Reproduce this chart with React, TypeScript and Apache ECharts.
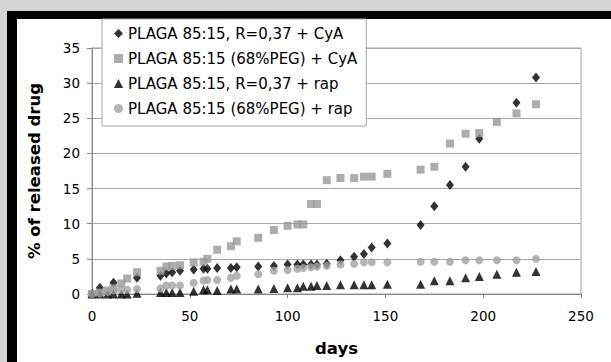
import React, { useEffect, useRef } from "react";
import * as echarts from "echarts";

const seriesNames = [
  "PLAGA 85:15, R=0,37 + CyA",
  "PLAGA 85:15 (68%PEG) + CyA",
  "PLAGA 85:15, R=0,37 + rap",
  "PLAGA 85:15 (68%PEG) + rap",
];

const daysCyA = [0, 4, 11, 23, 35, 38, 41, 45, 52, 57, 59, 64, 71, 74, 85, 93, 100, 105, 108, 112, 115, 120, 127, 134, 139, 143, 151, 168, 175, 183, 191, 198, 217, 227];
const cyaR037 = [0, 0.9, 1.6, 2.3, 2.6, 2.9, 3.1, 3.3, 3.5, 3.6, 3.6, 3.7, 3.7, 3.8, 3.9, 4.0, 4.2, 4.2, 4.2, 4.2, 4.2, 4.3, 4.8, 5.3, 5.7, 6.6, 7.2, 9.8, 12.5, 15.5, 18.1, 22.1, 27.2, 30.8];

const daysAll = [0, 4, 8, 11, 15, 18, 23, 35, 38, 41, 45, 52, 57, 59, 64, 71, 74, 85, 93, 100, 105, 108, 112, 115, 120, 127, 134, 139, 143, 151, 168, 175, 183, 191, 198, 207, 217, 227];
const cyaPEG = [0, 0.2, 0.5, 0.8, 1.5, 2.2, 3.1, 3.3, 3.9, 4.0, 4.1, 4.5, 4.6, 5.0, 6.3, 6.8, 7.5, 8.0, 9.1, 9.7, 9.9, 9.9, 12.8, 12.8, 16.2, 16.5, 16.5, 16.7, 16.7, 17.1, 17.7, 18.1, 21.4, 22.8, 22.9, 24.5, 25.7, 27.0];
const rapR037 = [0, 0, 0, 0, 0, 0, 0.1, 0.2, 0.2, 0.2, 0.2, 0.4, 0.6, 0.6, 0.5, 0.7, 0.7, 0.7, 0.8, 0.9, 0.9, 1.1, 1.1, 1.2, 1.2, 1.3, 1.3, 1.3, 1.3, 1.4, 1.4, 1.9, 1.9, 2.3, 2.5, 2.8, 3.1, 3.2];
const rapPEG = [0, 0.1, 0.3, 0.5, 0.6, 0.6, 0.7, 0.8, 1.2, 1.2, 1.2, 1.6, 1.9, 2.0, 2.0, 2.3, 2.6, 2.8, 3.3, 3.4, 3.6, 3.7, 3.8, 3.9, 4.0, 4.2, 4.3, 4.5, 4.5, 4.5, 4.6, 4.6, 4.6, 4.8, 4.8, 4.8, 4.8, 5.0];

const xTitle = "days";
const yTitle = "% of released drug";

const pairs = (xs: number[], ys: number[]) => xs.map((x, i) => [x, ys[i]]);

const FONT = "DejaVu Sans";

export default function App() {
  const ref = useRef<HTMLDivElement>(null);

  useEffect(() => {
    if (!ref.current) return;
    const chart = echarts.init(ref.current, undefined, { renderer: "svg" });
    chart.setOption({
      animation: false,
      grid: {
        left: 92,
        right: 30,
        top: 48,
        bottom: 67,
        show: true,
        borderColor: "#a0a0a0",
        borderWidth: 1,
        backgroundColor: "transparent",
      },
      legend: {
        orient: "vertical",
        left: 102,
        top: 19,
        itemWidth: 9,
        itemHeight: 9,
        itemGap: 10,
        padding: [7, 9, 10, 12],
        backgroundColor: "#ffffff",
        borderColor: "#a8a8a8",
        borderWidth: 1,
        borderRadius: 0,
        textStyle: { fontFamily: FONT, fontSize: 15, color: "#000" },
        data: seriesNames,
      },
      xAxis: {
        type: "value",
        min: 0,
        max: 250,
        interval: 50,
        name: xTitle,
        nameLocation: "middle",
        nameGap: 46,
        nameTextStyle: { fontFamily: FONT, fontSize: 16.5, fontWeight: "bold", color: "#000" },
        axisLine: { show: true, lineStyle: { color: "#888", width: 1 } },
        axisTick: { show: true, length: 4, lineStyle: { color: "#888" } },
        axisLabel: { fontFamily: FONT, fontSize: 13.5, color: "#000", margin: 15 },
        splitLine: { show: false },
      },
      yAxis: {
        type: "value",
        min: 0,
        max: 35,
        interval: 5,
        name: yTitle,
        nameLocation: "middle",
        nameGap: 49,
        nameRotate: 90,
        nameTextStyle: { fontFamily: FONT, fontSize: 16.5, fontWeight: "bold", color: "#000" },
        axisLine: { show: true, lineStyle: { color: "#888", width: 1 } },
        axisTick: { show: true, length: 5, lineStyle: { color: "#888" } },
        axisLabel: { fontFamily: FONT, fontSize: 13.5, color: "#000", margin: 12 },
        splitLine: { show: true, lineStyle: { color: "#a8a8a8", width: 1 } },
      },
      series: [
        {
          name: seriesNames[0],
          type: "scatter",
          symbol: "diamond",
          symbolSize: [8, 10],
          itemStyle: { color: "#000000" },
          data: pairs(daysCyA, cyaR037),
        },
        {
          name: seriesNames[1],
          type: "scatter",
          symbol: "rect",
          symbolSize: 8,
          itemStyle: { color: "#999999" },
          data: pairs(daysAll, cyaPEG),
        },
        {
          name: seriesNames[2],
          type: "scatter",
          symbol: "triangle",
          symbolSize: 9,
          itemStyle: { color: "#000000" },
          data: pairs(daysAll, rapR037),
        },
        {
          name: seriesNames[3],
          type: "scatter",
          symbol: "circle",
          symbolSize: 8,
          itemStyle: { color: "#a3a3a3" },
          data: pairs(daysAll, rapPEG),
        },
      ],
    });
    return () => chart.dispose();
  }, []);

  return (
    <div style={{ position: "fixed", left: 0, top: 0, width: 611, height: 362, background: "#d4d4d4", overflow: "hidden" }}>
      <div style={{ position: "absolute", left: 7, top: 11, width: 700, height: 400, background: "#000" }} />
      <div style={{ position: "absolute", left: 17, top: 19, width: 700, height: 400, background: "#fff" }} />
      <div ref={ref} style={{ position: "absolute", left: 0, top: 0, width: 611, height: 362 }} />
    </div>
  );
}
